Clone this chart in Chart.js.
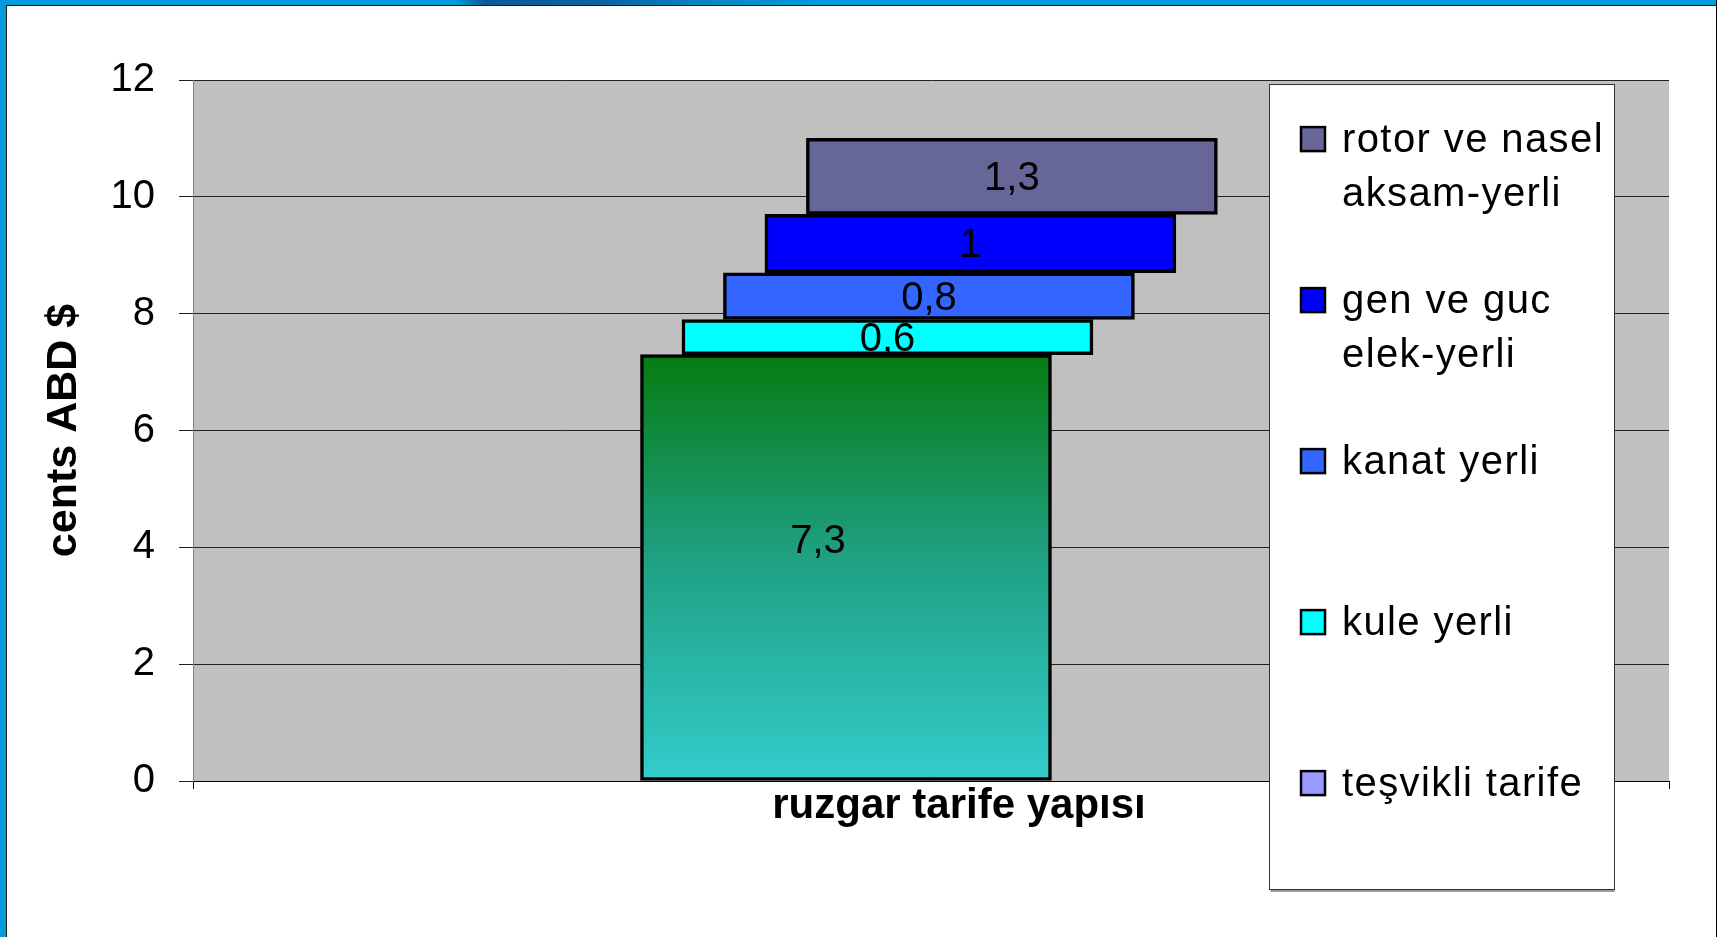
<!DOCTYPE html>
<html>
<head>
<meta charset="utf-8">
<script src="https://cdn.jsdelivr.net/npm/chart.js@4.4.1/dist/chart.umd.min.js"></script>
<style>
html,body{margin:0;padding:0;background:#fff;overflow:hidden}
#wrap{position:relative;width:1719px;height:937px;background:#fff}
#chart{position:absolute;left:0;top:0}
.deco{position:absolute;pointer-events:none}
#topband{left:0;top:0;width:1717px;height:5px;background:linear-gradient(90deg,#009CDA 0px,#009CDA 455px,#0B5A96 485px,#0A62A2 600px,#0883C2 700px,#009CDA 820px,#009CDA 1717px)}
#topline{left:6px;top:5px;width:1711px;height:1px;background:#1a1a1a}
#leftband{left:0;top:0;width:6px;height:937px;background:#009CDA}
#leftline{left:6px;top:5px;width:1px;height:932px;background:#1a1a1a}
#rightline{left:1716px;top:0;width:1px;height:937px;background:#000}
</style>
</head>
<body>
<div id="wrap">
  <canvas id="chart" width="1719" height="937"></canvas>
  <div class="deco" id="topband"></div>
  <div class="deco" id="topline"></div>
  <div class="deco" id="leftband"></div>
  <div class="deco" id="leftline"></div>
  <div class="deco" id="rightline"></div>
</div>
<script>
// ---- data ----
const categories = ['ruzgar tarife yapısı'];
const seriesNames = ['teşvikli tarife', 'kule yerli', 'kanat yerli', 'gen ve guc elek-yerli', 'rotor ve nasel aksam-yerli'];
const seriesValues = [7.3, 0.6, 0.8, 1, 1.3];
const yTickValues = [0, 2, 4, 6, 8, 10, 12];
const yAxisTitle = 'cents ABD $';

// ---- styles ----
const FONT = '"Liberation Sans", Arial, Helvetica, sans-serif';
const barColors = [null, '#00FFFF', '#3366FF', '#0000FF', '#666699'];
const legendColors = ['#9999FF', '#00FFFF', '#3366FF', '#0000FF', '#666699'];
const depthStart = -0.0576;   // x offset of first segment (axis units)
const depthStep = 0.0281;     // shift of each following segment
const barWidthPx = 411;

function greenGradient(c) {
  const ch = c.chart;
  const ys = ch.scales && ch.scales.y;
  if (!ys) return '#1E9E7E';
  const y0 = ys.getPixelForValue(seriesValues[0]);
  const y1 = ys.getPixelForValue(0);
  if (!isFinite(y0) || !isFinite(y1) || y0 === y1) return '#1E9E7E';
  const g = ch.ctx.createLinearGradient(0, y0, 0, y1);
  g.addColorStop(0, '#067C11');
  g.addColorStop(0.45, '#1E9E7E');
  g.addColorStop(1, '#33CCCC');
  return g;
}

let cum = 0;
const datasets = seriesNames.map((name, i) => {
  const lo = cum;
  const hi = cum + seriesValues[i];
  cum = hi;
  return {
    label: name,
    data: [{ x: depthStart + i * depthStep, y: [lo, hi] }],
    backgroundColor: i === 0 ? greenGradient : barColors[i],
    borderColor: '#000',
    borderWidth: 3.5,
    borderSkipped: false,
    barThickness: barWidthPx,
    grouped: false,
    labelShift: i === 0 ? { x: -28, y: -26 } : { x: 0, y: 2.5 }
  };
});

const plotBg = {
  id: 'plotBg',
  beforeDraw(chart) {
    const { ctx, chartArea: a } = chart;
    ctx.save();
    ctx.fillStyle = '#C0C0C0';
    ctx.fillRect(a.left, a.top, a.right - a.left, a.bottom - a.top);
    ctx.restore();
  }
};

const dataLabels = {
  id: 'dataLabels',
  afterDatasetsDraw(chart) {
    const ctx = chart.ctx;
    ctx.save();
    ctx.font = '40px ' + FONT;
    ctx.fillStyle = '#000';
    ctx.textAlign = 'center';
    ctx.textBaseline = 'middle';
    chart.data.datasets.forEach((ds, i) => {
      const meta = chart.getDatasetMeta(i);
      meta.data.forEach((el) => {
        const sh = ds.labelShift;
        const txt = String(seriesValues[i]).replace('.', ',');
        ctx.fillText(txt, el.x + sh.x, (el.y + el.base) / 2 + sh.y);
      });
    });
    ctx.restore();
  }
};

const boxLegend = {
  id: 'boxLegend',
  afterDraw(chart) {
    const ctx = chart.ctx;
    const L = 1269.5, T = 84.5, W = 345, H = 805;
    ctx.save();
    ctx.fillStyle = '#fff';
    ctx.fillRect(L, T, W, H);
    ctx.strokeStyle = '#9a9a9a';
    ctx.lineWidth = 2;
    ctx.beginPath(); ctx.moveTo(L + 1, T + H + 1.5); ctx.lineTo(L + W, T + H + 1.5); ctx.stroke();
    ctx.strokeStyle = '#333';
    ctx.lineWidth = 1;
    ctx.strokeRect(L, T, W, H);

    ctx.font = '40px ' + FONT;
    if ('letterSpacing' in ctx) ctx.letterSpacing = '1.4px';
    ctx.textAlign = 'left';
    ctx.textBaseline = 'middle';
    const slot = H / seriesNames.length;
    const maxW = 268;
    const order = seriesNames.map((_, i) => i).reverse();
    order.forEach((di, k) => {
      const words = seriesNames[di].split(' ');
      const lines = [];
      let cur = '';
      words.forEach(w => {
        const t = cur ? cur + ' ' + w : w;
        if (cur && ctx.measureText(t).width > maxW) { lines.push(cur); cur = w; }
        else cur = t;
      });
      if (cur) lines.push(cur);
      const y0 = T + k * slot + 54.6;
      ctx.fillStyle = legendColors[di];
      ctx.fillRect(1301, y0 - 12, 24, 24);
      ctx.strokeStyle = '#000';
      ctx.lineWidth = 2.5;
      ctx.strokeRect(1301, y0 - 12, 24, 24);
      ctx.fillStyle = '#000';
      lines.forEach((ln, j) => ctx.fillText(ln, 1342, y0 + 2 + j * 54));
    });
    ctx.restore();
  }
};

new Chart(document.getElementById('chart'), {
  type: 'bar',
  data: { datasets },
  options: {
    responsive: false,
    devicePixelRatio: 1,
    animation: false,
    layout: { padding: { top: 80, right: 50, left: 0, bottom: 0 } },
    plugins: { legend: { display: false }, tooltip: { enabled: false } },
    scales: {
      x: {
        type: 'linear',
        min: -0.5, max: 0.5,
        offset: false,
        afterFit(s) { s.height = 156; },
        ticks: {
          stepSize: 0.5,
          autoSkip: false,
          maxRotation: 0,
          color: '#000',
          font: { family: FONT, size: 42, weight: 'bold', lineHeight: 1 },
          padding: -4,
          labelOffset: 28,
          callback: (v) => Math.abs(v) < 1e-9 ? categories[0] : ''
        },
        grid: {
          drawOnChartArea: false,
          drawTicks: true,
          tickLength: 8,
          offset: false,
          color: '#000',
          tickColor: (c) => (c.tick && Math.abs(c.tick.value) < 1e-9) ? 'rgba(0,0,0,0)' : '#000'
        },
        border: { display: true, color: '#000', width: 1 }
      },
      y: {
        min: yTickValues[0],
        max: yTickValues[yTickValues.length - 1],
        afterFit(s) { s.width = 193; },
        afterBuildTicks(s) { s.ticks = yTickValues.map(v => ({ value: v })); },
        ticks: { color: '#000', font: { family: FONT, size: 40 }, padding: 24 },
        grid: { color: '#222', tickColor: '#222', tickLength: 14, lineWidth: 1 },
        border: { display: true, color: '#808080', width: 1 },
        title: {
          display: true, text: yAxisTitle, color: '#000',
          font: { family: FONT, size: 43, weight: 'bold', lineHeight: 1.2 },
          padding: { top: 38, bottom: 0 }
        }
      }
    }
  },
  plugins: [plotBg, dataLabels, boxLegend]
});
</script>
</body>
</html>
